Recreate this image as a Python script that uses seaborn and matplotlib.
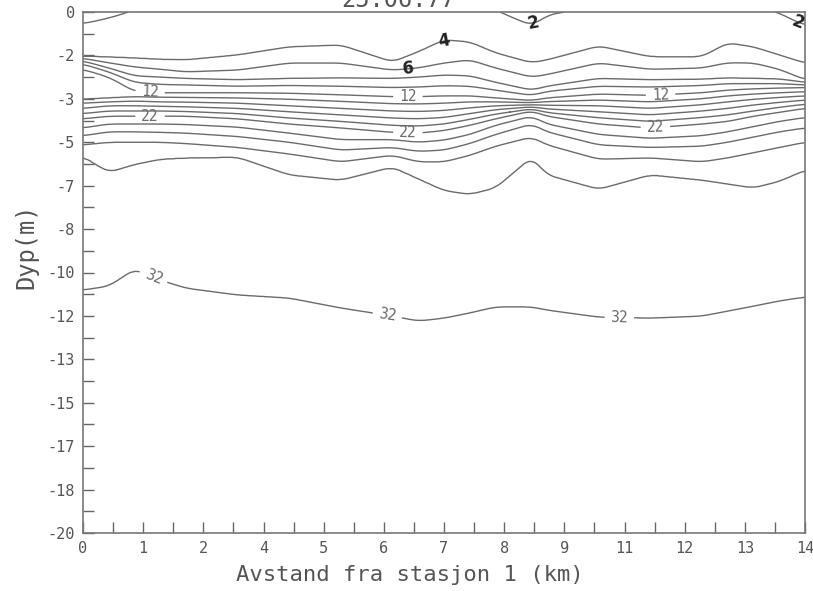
import numpy as np
import matplotlib
matplotlib.use("Agg")
import matplotlib.pyplot as plt
import seaborn as sns
from matplotlib.ticker import FixedLocator

# ---- data ----
title_text = "25.06.77"
x_label = "Avstand fra stasjon 1 (km)"
y_label = "Dyp(m)"
x_tick_labels = ["0", "1", "2", "4", "5", "6", "7", "8", "9", "11", "12", "13", "14"]
y_tick_labels = ["0", "-2", "-3", "-5", "-7", "-8", "-10", "-12", "-13", "-15", "-17", "-18", "-20"]

# distance of each profile column (km)
dist_km = [0, 0.5, 1, 1.5, 2, 3, 4, 5, 6, 6.5, 7, 7.5, 8, 8.7, 9, 10, 11, 12, 12.5, 13, 13.5, 14]
# surface value per column and bottom value
surface_val = [1.3, 1.7, 2.1, 2.3, 2.4, 2.4, 2.5, 2.5, 2.4, 2.4, 2.5, 2.5, 2.1, 1.3, 1.85, 2.3, 2.4, 2.4, 2.5, 2.3, 1.95, 1.3]
bottom_val = 33.5
# depth (m) of each isoline along the section
iso_4 = [-1.70, -1.73, -1.77, -1.82, -1.84, -1.65, -1.34, -1.27, -1.92, -1.53, -1.07, -1.15, -1.57, -1.95, -1.84, -1.31, -1.72, -1.72, -1.19, -1.34, -1.65, -1.96]
iso_6 = [-1.78, -1.95, -2.11, -2.20, -2.30, -2.23, -1.96, -1.96, -2.23, -2.15, -1.96, -1.84, -2.15, -2.50, -2.40, -1.96, -2.20, -2.15, -1.95, -1.96, -2.20, -2.60]
iso_8 = [-1.88, -2.15, -2.45, -2.50, -2.55, -2.60, -2.55, -2.53, -2.55, -2.50, -2.42, -2.45, -2.70, -3.00, -2.85, -2.55, -2.60, -2.58, -2.53, -2.55, -2.57, -2.70]
iso_10 = [-2.00, -2.30, -2.70, -2.78, -2.80, -2.85, -2.82, -2.85, -2.90, -2.88, -2.83, -2.85, -3.00, -3.20, -3.05, -2.85, -2.88, -2.82, -2.75, -2.75, -2.75, -2.80]
iso_12 = [-2.20, -2.50, -3.05, -3.10, -3.10, -3.10, -3.12, -3.18, -3.25, -3.25, -3.22, -3.22, -3.30, -3.40, -3.30, -3.15, -3.20, -3.10, -3.00, -2.95, -2.92, -2.90]
iso_14 = [-3.35, -3.30, -3.25, -3.27, -3.28, -3.30, -3.35, -3.43, -3.52, -3.53, -3.50, -3.45, -3.45, -3.48, -3.44, -3.38, -3.45, -3.33, -3.22, -3.15, -3.10, -3.06]
iso_16 = [-3.50, -3.45, -3.42, -3.45, -3.46, -3.50, -3.60, -3.70, -3.80, -3.82, -3.78, -3.68, -3.60, -3.56, -3.58, -3.60, -3.70, -3.56, -3.45, -3.35, -3.28, -3.22]
iso_18 = [-3.70, -3.60, -3.60, -3.62, -3.64, -3.70, -3.83, -3.95, -4.07, -4.10, -4.05, -3.90, -3.75, -3.64, -3.72, -3.83, -3.95, -3.80, -3.70, -3.57, -3.47, -3.38]
iso_20 = [-3.90, -3.80, -3.80, -3.80, -3.82, -3.90, -4.07, -4.20, -4.35, -4.38, -4.30, -4.12, -3.92, -3.72, -3.86, -4.06, -4.20, -4.05, -3.95, -3.80, -3.66, -3.54]
iso_22 = [-4.10, -4.00, -4.00, -4.00, -4.00, -4.10, -4.30, -4.45, -4.62, -4.65, -4.55, -4.35, -4.10, -3.80, -4.00, -4.30, -4.45, -4.30, -4.20, -4.00, -3.85, -3.70]
iso_24 = [-4.45, -4.30, -4.30, -4.30, -4.32, -4.42, -4.65, -4.90, -4.90, -5.00, -4.92, -4.70, -4.35, -4.00, -4.30, -4.70, -4.85, -4.75, -4.60, -4.40, -4.20, -4.05]
iso_26 = [-4.75, -4.60, -4.60, -4.62, -4.65, -4.78, -5.00, -5.30, -5.20, -5.35, -5.30, -5.05, -4.70, -4.30, -4.60, -5.10, -5.20, -5.15, -5.00, -4.80, -4.60, -4.45]
iso_28 = [-5.10, -5.00, -5.00, -5.00, -5.05, -5.20, -5.45, -5.75, -5.50, -5.75, -5.75, -5.50, -5.15, -4.80, -5.10, -5.65, -5.60, -5.75, -5.60, -5.40, -5.20, -5.00]
iso_30 = [-5.55, -6.15, -5.85, -5.65, -5.60, -5.57, -6.25, -6.45, -5.95, -6.40, -6.85, -7.00, -6.75, -5.57, -6.25, -6.80, -6.25, -6.45, -6.60, -6.75, -6.50, -6.07]
iso_32 = [-10.67, -10.52, -9.87, -10.29, -10.60, -10.86, -10.98, -11.36, -11.67, -11.86, -11.75, -11.55, -11.32, -11.32, -11.44, -11.71, -11.75, -11.67, -11.48, -11.29, -11.09, -10.94]

hand_label_levels = [2, 4, 6]
plain_levels = [8, 10, 14, 16, 18, 20, 24, 26, 28, 30]
typed_label_levels = [12, 22, 32]

# label anchor points (x km, depth m)
typed_label_pos = [(1.3, -3.1), (6.3, -3.25), (11.2, -3.2),
                   (1.3, -4.0), (6.3, -4.62), (11.1, -4.45),
                   (1.4, -10.0), (5.9, -11.65), (10.4, -11.75)]
hand_label_pos = [(8.75, -0.55), (13.85, -0.45), (7.0, -1.12), (6.3, -2.2)]

# ---- build the gridded field from the isoline depths ----
iso_table = [(4, iso_4), (6, iso_6), (8, iso_8), (10, iso_10), (12, iso_12), (14, iso_14),
             (16, iso_16), (18, iso_18), (20, iso_20), (22, iso_22), (24, iso_24), (26, iso_26),
             (28, iso_28), (30, iso_30), (32, iso_32)]
x_grid = np.linspace(0, 14, 701)
depth_grid = np.linspace(-20, 0, 1001)


def rounded(arr, n=17):
    # round off the corners between read points (drawing only)
    k = np.ones(n) / n
    padded = np.pad(arr, n // 2, mode="edge")
    return np.convolve(padded, k, mode="valid")


iso_on_grid = [(lv, rounded(np.interp(x_grid, dist_km, tbl))) for lv, tbl in iso_table]
surf_on_grid = rounded(np.interp(x_grid, dist_km, surface_val))
field = np.zeros((len(depth_grid), len(x_grid)))
for j in range(len(x_grid)):
    dps = [-20.0] + [g[j] for _, g in iso_on_grid[::-1]] + [0.0]
    vals = [bottom_val] + [lv for lv, _ in iso_on_grid[::-1]] + [surf_on_grid[j]]
    field[:, j] = np.interp(depth_grid, dps, vals)

# ---- plot ----
sns.set_theme(style="white")
plt.rcParams["font.family"] = ["DejaVu Sans Mono", "DejaVu Sans"]

fig = plt.figure(figsize=(8.13, 5.91), dpi=100)
fig.patch.set_facecolor("white")
ax = fig.add_axes([83 / 813, 1 - 533 / 591, 722 / 813, 521 / 591])
ax.set_facecolor("white")

line_color = "#6b6b6b"
lw = 1.0
cs_plain = ax.contour(x_grid, depth_grid, field, levels=plain_levels,
                      colors=line_color, linewidths=lw)
cs_typed = ax.contour(x_grid, depth_grid, field, levels=typed_label_levels,
                      colors=line_color, linewidths=lw)
cs_hand = ax.contour(x_grid, depth_grid, field, levels=hand_label_levels,
                     colors=line_color, linewidths=lw)
typed = ax.clabel(cs_typed, manual=typed_label_pos, inline=True,
                  inline_spacing=6, fontsize=10.5, colors=line_color, fmt="%d")
hand = ax.clabel(cs_hand, manual=hand_label_pos, inline=False,
                 fontsize=12, colors="#222222", fmt="%d")
for t in hand:
    t.set_fontweight("bold")
    t.set_family("DejaVu Sans")

ax.set_xlim(0, 14)
ax.set_ylim(-20, 0)
ax.xaxis.set_major_locator(FixedLocator(np.linspace(0, 14, 13)))
ax.xaxis.set_minor_locator(FixedLocator(np.linspace(0, 14, 25)))
ax.yaxis.set_major_locator(FixedLocator(np.linspace(0, -20, 13)))
ax.yaxis.set_minor_locator(FixedLocator(np.linspace(-20, 0, 25)))
ax.set_xticklabels(x_tick_labels)
ax.set_yticklabels(y_tick_labels)
ax.tick_params(which="both", direction="in", length=8, width=1.0, color="#666666",
               bottom=True, left=True, top=False, right=False)
ax.tick_params(which="major", labelsize=11, labelcolor="#555555", pad=6)
for sp in ax.spines.values():
    sp.set_color("#777777")
    sp.set_linewidth(1.2)

ax.set_xlabel(x_label, fontsize=16, color="#555555")
ax.set_ylabel(y_label, fontsize=17, color="#555555")
ax.xaxis.set_label_coords(0.453, -0.062)
ax.yaxis.set_label_coords(-0.062, 0.55)

fig.text(0.49, 1 - 7 / 591, title_text, ha="center", va="baseline",
         fontsize=17, color="#555555")

fig.savefig("out.png", dpi=100, facecolor="white")
